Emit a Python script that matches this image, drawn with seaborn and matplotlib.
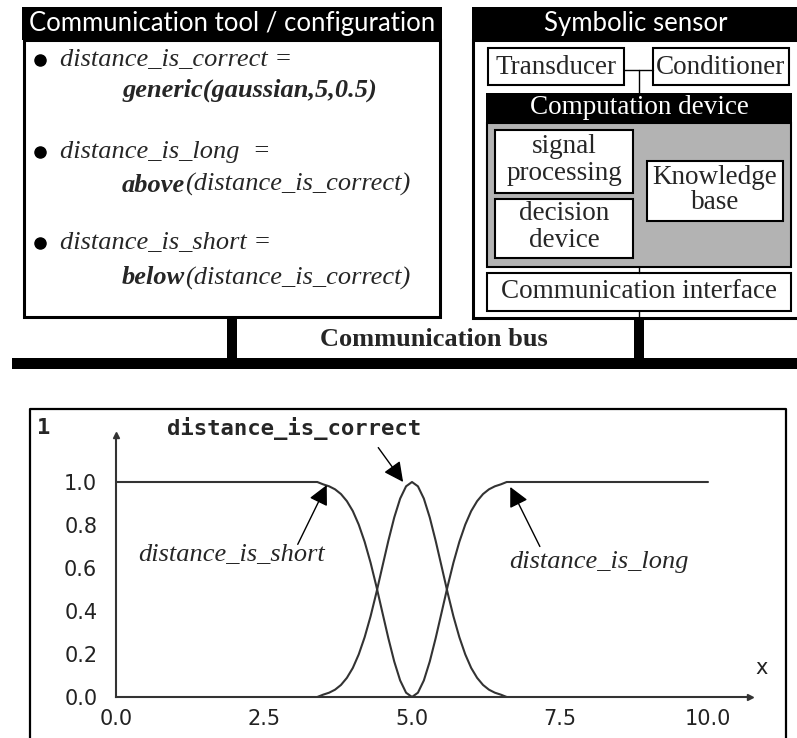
import pandas as pd
import seaborn as sns
import matplotlib.pyplot as plt
from matplotlib.patches import Rectangle

# membership curves
correct_x = [3.4, 3.5, 3.6, 3.7, 3.8, 3.9, 4.0, 4.1, 4.2, 4.3, 4.4, 4.5, 4.6, 4.7, 4.8, 4.9, 5.0,
             5.1, 5.2, 5.3, 5.4, 5.5, 5.6, 5.7, 5.8, 5.9, 6.0, 6.1, 6.2, 6.3, 6.4, 6.5, 6.6]
correct_y = [0.0, 0.011, 0.020, 0.034, 0.056, 0.089, 0.135, 0.198, 0.278, 0.375, 0.487, 0.607, 0.726, 0.835, 0.923, 0.980, 1.0,
             0.980, 0.923, 0.835, 0.726, 0.607, 0.487, 0.375, 0.278, 0.198, 0.135, 0.089, 0.056, 0.034, 0.020, 0.011, 0.0]
short_x = [0.0, 3.4, 3.5, 3.6, 3.7, 3.8, 3.9, 4.0, 4.1, 4.2, 4.3, 4.4, 4.5, 4.6, 4.7, 4.8, 4.9, 5.0]
short_y = [1.0, 1.0, 0.989, 0.980, 0.966, 0.944, 0.911, 0.865, 0.802, 0.722, 0.625, 0.513, 0.393, 0.274, 0.165, 0.077, 0.020, 0.0]
long_x = [5.0, 5.1, 5.2, 5.3, 5.4, 5.5, 5.6, 5.7, 5.8, 5.9, 6.0, 6.1, 6.2, 6.3, 6.4, 6.5, 6.6, 10.0]
long_y = [0.0, 0.020, 0.077, 0.165, 0.274, 0.393, 0.513, 0.625, 0.722, 0.802, 0.865, 0.911, 0.944, 0.966, 0.980, 0.989, 1.0, 1.0]

x_ticks = [0.0, 2.5, 5.0, 7.5, 10.0]
y_ticks = [0.0, 0.2, 0.4, 0.6, 0.8, 1.0]

sns.set_style('white')
plt.rcParams['font.family'] = ['DejaVu Sans']

SERIF = 'Liberation Serif'
TITLE_FONT = 'Lato'
LINE = '#333333'

fig = plt.figure(figsize=(7.97, 7.38), dpi=100)

# ---- block diagram, drawn in pixel coordinates ----
ov = fig.add_axes([0, 0, 1, 1])
ov.set_xlim(0, 797)
ov.set_ylim(738, 0)
ov.axis('off')


def box(x0, y0, x1, y1, fc='white', lw=1.5, ec='black'):
    ov.add_patch(Rectangle((x0, y0), x1 - x0, y1 - y0, fc=fc, ec=ec, lw=lw))


def fill(x0, y0, x1, y1, c='black'):
    ov.add_patch(Rectangle((x0, y0), x1 - x0, y1 - y0, fc=c, ec='none', lw=0))


# left panel
box(24.5, 40, 440.5, 317, lw=2.2)
fill(22, 7, 442, 40)
ov.text(232, 24, 'Communication tool / configuration', color='white', fontsize=18.5,
        family=TITLE_FONT, ha='center', va='center')

bullet_y = [60, 152, 243]
first_lines = ['distance_is_correct =', 'distance_is_long  =', 'distance_is_short =']
for by, txt in zip(bullet_y, first_lines):
    ov.plot(40, by, 'o', color='black', ms=8)
    ov.text(60, by, txt, family=SERIF, style='italic', fontsize=19, va='center')

ov.text(122, 90, 'generic(gaussian,5,0.5)', family=SERIF, style='italic', weight='bold',
        fontsize=19, va='center')
for ly, word in zip([185, 278], ['above', 'below']):
    t1 = ov.text(122, ly, word, family=SERIF, style='italic', weight='bold',
                 fontsize=19, va='center')
    ov.annotate('(distance_is_correct)', xy=(1, 0), xycoords=t1, family=SERIF,
                style='italic', fontsize=19, va='bottom', ha='left')

# bus and connectors
fill(227, 317, 237, 358)
fill(634, 319, 644, 358)
fill(12, 358, 797, 369)
ov.text(434, 340, 'Communication bus', family=SERIF, weight='bold', fontsize=19,
        ha='center', va='center')

# right panel
box(473.5, 40, 805, 318, lw=2.2)
fill(472, 7, 797, 40)
ov.text(636, 24, 'Symbolic sensor', color='white', fontsize=18.5, family=TITLE_FONT,
        ha='center', va='center')

ov.plot([624, 653], [70, 70], color='black', lw=1)
ov.plot([639, 639], [70, 93], color='black', lw=1)
ov.plot([639, 639], [267, 273], color='black', lw=1)
ov.plot([639, 639], [311, 319], color='black', lw=1)

box(488, 48, 624, 85)
ov.text(556, 67, 'Transducer', family=SERIF, fontsize=19.5, ha='center', va='center')
box(653, 48, 789, 85)
ov.text(721, 67, 'Conditioner', family=SERIF, fontsize=19.5, ha='center', va='center')

box(487, 123, 791, 267, fc='#b3b3b3')
fill(486, 93, 792, 123)
ov.text(639, 108, 'Computation device', color='white', family=SERIF, fontsize=19.5,
        ha='center', va='center')
box(495, 130, 633, 193)
ov.text(564, 160, 'signal\nprocessing', family=SERIF, fontsize=19.5, ha='center',
        va='center', linespacing=1.08)
box(495, 199, 633, 258)
ov.text(564, 227, 'decision\ndevice', family=SERIF, fontsize=19.5, ha='center',
        va='center', linespacing=1.08)
box(647, 161, 783, 221)
ov.text(715, 190, 'Knowledge\nbase', family=SERIF, fontsize=19.5, ha='center',
        va='center', linespacing=1.0)

box(487, 273, 791, 311)
ov.text(639, 292, 'Communication interface', family=SERIF, fontsize=19.5,
        ha='center', va='center')

# chart frame and header text
ov.plot([30, 30, 786, 786], [745, 409, 409, 745], color='black', lw=1.6)
ov.text(37, 428, '1', family='DejaVu Sans Mono', weight='bold', fontsize=16, va='center')
ov.text(167, 428, 'distance_is_correct', family='DejaVu Sans Mono', weight='bold',
        fontsize=16, va='center')
ov.text(762, 668, 'x', fontsize=15, ha='center', va='center', color='#222222')

# ---- membership function chart ----
# x: 0..10 -> px 116..708, y: 0..1 -> px 697..482
ax = fig.add_axes([116 / 797, (738 - 697) / 738, (750 - 116) / 797, (697 - 435) / 738])
ax.set_facecolor('none')

sns.lineplot(x=correct_x, y=correct_y, ax=ax, color=LINE, lw=1.5, sort=False, estimator=None)
sns.lineplot(x=short_x, y=short_y, ax=ax, color=LINE, lw=1.5, sort=False, estimator=None)
sns.lineplot(x=long_x, y=long_y, ax=ax, color=LINE, lw=1.5, sort=False, estimator=None)

ax.set_xlim(0, 634 / 59.2)
ax.set_ylim(0, 262 / 215)
ax.set_xticks(x_ticks)
ax.set_yticks(y_ticks)
ax.set_xticklabels([f'{v:.1f}' for v in x_ticks])
ax.set_yticklabels([f'{v:.1f}' for v in y_ticks])
ax.tick_params(direction='inout', length=7, width=1.2, color=LINE, labelsize=15,
               labelcolor='#222222')
ax.tick_params(axis='y', pad=10)
ax.tick_params(axis='x', pad=5)
for s in ['top', 'right']:
    ax.spines[s].set_visible(False)
for s in ['left', 'bottom']:
    ax.spines[s].set_color(LINE)
    ax.spines[s].set_linewidth(1.5)
ax.plot(1, 0, '>', color=LINE, ms=5, transform=ax.transAxes, clip_on=False)
ax.plot(0, 1, '^', color=LINE, ms=5, transform=ax.transAxes, clip_on=False)
ax.set_xlabel('')
ax.set_ylabel('')

arrow = dict(arrowstyle='-|>', color='black', lw=1, mutation_scale=30, shrinkA=0, shrinkB=0)
ax.annotate('', xy=(4.85, 1.0), xytext=(4.43, 1.16), arrowprops=arrow)
ax.annotate('', xy=(3.56, 0.986), xytext=(3.07, 0.71), arrowprops=arrow)
ax.annotate('', xy=(6.66, 0.977), xytext=(7.16, 0.70), arrowprops=arrow)
ax.text(1.96, 0.66, 'distance_is_short', family=SERIF, style='italic', fontsize=19,
        ha='center', va='center')
ax.text(8.16, 0.63, 'distance_is_long', family=SERIF, style='italic', fontsize=19,
        ha='center', va='center')

fig.savefig('out.png', dpi=100)
